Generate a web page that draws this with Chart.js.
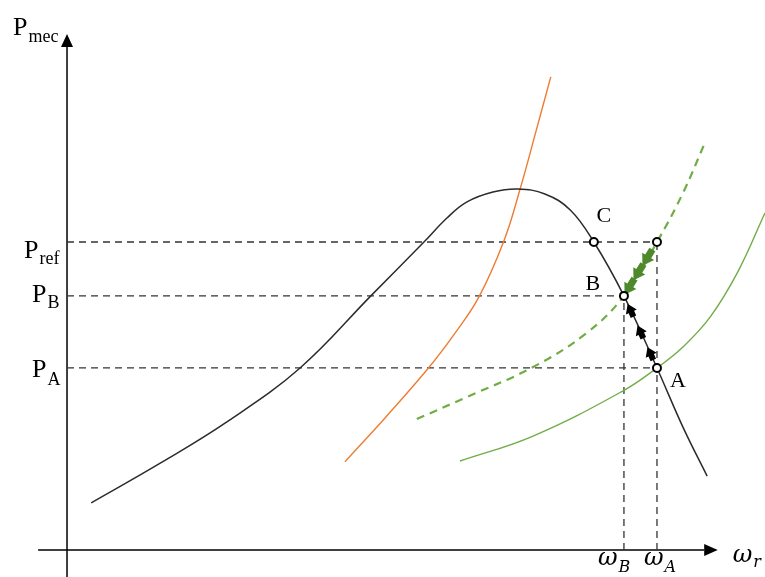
<!DOCTYPE html>
<html>
<head>
<meta charset="utf-8">
<script src="https://cdn.jsdelivr.net/npm/chart.js@4/dist/chart.umd.min.js"></script>
<style>
  html, body { margin: 0; padding: 0; background: #fff; }
  #wrap { width: 765px; height: 577px; }
</style>
</head>
<body>
<div id="wrap"><canvas id="c" width="765" height="577"></canvas></div>
<script>
// Rotor speed ω (per unit of ω_A) versus mechanical power (per unit of P_ref)

// Operating points
const W_A = 1.000, W_B = 0.944, W_C = 0.893;
const P_REF = 1.000, P_B = 0.825, P_A = 0.591;

// Turbine power curve P_mec(ω)
const turbineW = [0.041, 0.158, 0.271, 0.395, 0.515, 0.605, 0.644, 0.678, 0.722, 0.764, 0.810, 0.853, 0.893, 0.944, 1.000, 1.044, 1.085];
const turbineP = [0.153, 0.282, 0.416, 0.591, 0.825, 1.000, 1.078, 1.130, 1.162, 1.172, 1.156, 1.104, 1.000, 0.825, 0.591, 0.399, 0.240];

// Optimal-power tracking curve (orange)
const optW = [0.471, 0.542, 0.614, 0.658, 0.698, 0.741, 0.768, 0.795, 0.820];
const optP = [0.286, 0.435, 0.594, 0.705, 0.821, 1.006, 1.172, 1.360, 1.536];

// Shifted control curve through B and the P_ref target (dashed green)
const ctrlNewW = [0.593, 0.678, 0.790, 0.881, 0.944, 1.000, 1.044, 1.081];
const ctrlNewP = [0.425, 0.497, 0.594, 0.705, 0.825, 1.000, 1.159, 1.321];

// Initial control curve through A (solid green)
const ctrlOldW = [0.666, 0.790, 0.942, 1.000, 1.044, 1.090, 1.137, 1.183];
const ctrlOldP = [0.289, 0.370, 0.516, 0.591, 0.659, 0.756, 0.903, 1.094];

// Axis labels on the power axis
const pTickMain = ['P', 'P', 'P'];
const pTickSub  = ['ref', 'B', 'A'];
const pTickVal  = [P_REF, P_B, P_A];

// Axis extents
const W_VIEW = [-0.1136, 1.1831];
const P_VIEW = [-0.0877, 1.7857];
const W_AXIS = [-0.049, 1.080, 1.103];   // start, arrow base, arrow tip
const P_AXIS = [-0.090, 1.633, 1.675];

const zip = (xs, ys) => xs.map((x, i) => ({ x, y: ys[i] }));

const BLACK = '#2b2b2b';
const ORANGE = '#ED7D31';
const GREEN = '#70AD47';
const GREEN_DARK = '#4E8A2C';
const GUIDE = '#333333';

const ptA = { x: W_A, y: P_A };
const ptB = { x: W_B, y: P_B };
const ptC = { x: W_C, y: P_REF };
const ptD = { x: W_A, y: P_REF };

const curve = (data, color, width, dash) => ({
  data, showLine: true, pointRadius: 0, borderColor: color, borderWidth: width,
  borderDash: dash || [], tension: 0.4, fill: false
});
const guide = (a, b) => ({
  data: [a, b], showLine: true, pointRadius: 0, borderColor: GUIDE,
  borderWidth: 1.3, borderDash: [7, 5], tension: 0, fill: false
});

const datasets = [
  { // operating points, drawn last (on top)
    data: [ptA, ptB, ptC, ptD], showLine: false, pointRadius: 4,
    pointBackgroundColor: '#ffffff', pointBorderColor: '#000000', pointBorderWidth: 2
  },
  curve(zip(turbineW, turbineP), BLACK, 1.5),
  curve(zip(optW, optP), ORANGE, 1.4),
  curve(zip(ctrlNewW, ctrlNewP), GREEN, 2.2, [8, 6]),
  curve(zip(ctrlOldW, ctrlOldP), GREEN, 1.4),
  guide({ x: 0, y: P_REF }, ptD),
  guide({ x: 0, y: P_B }, ptB),
  guide({ x: 0, y: P_A }, ptA),
  guide({ x: W_B, y: 0 }, ptB),
  guide({ x: W_A, y: 0 }, ptD),
  { data: [{ x: 0, y: P_AXIS[0] }, { x: 0, y: P_AXIS[1] }], showLine: true, pointRadius: 0, borderColor: '#000', borderWidth: 1.5 },
  { data: [{ x: W_AXIS[0], y: 0 }, { x: W_AXIS[1], y: 0 }], showLine: true, pointRadius: 0, borderColor: '#000', borderWidth: 1.5 }
];

function arrow(ctx, tail, tip, color, headLen, headHalf, shaftHalf) {
  const dx = tip.x - tail.x, dy = tip.y - tail.y, L = Math.hypot(dx, dy);
  const ux = dx / L, uy = dy / L, nx = -uy, ny = ux;
  const bx = tip.x - ux * headLen, by = tip.y - uy * headLen;
  ctx.beginPath();
  ctx.moveTo(tail.x + nx * shaftHalf, tail.y + ny * shaftHalf);
  ctx.lineTo(bx + nx * shaftHalf, by + ny * shaftHalf);
  ctx.lineTo(bx + nx * headHalf, by + ny * headHalf);
  ctx.lineTo(tip.x, tip.y);
  ctx.lineTo(bx - nx * headHalf, by - ny * headHalf);
  ctx.lineTo(bx - nx * shaftHalf, by - ny * shaftHalf);
  ctx.lineTo(tail.x - nx * shaftHalf, tail.y - ny * shaftHalf);
  ctx.closePath();
  ctx.fillStyle = color;
  ctx.fill();
}

// chain of arrows between two operating points, centred at fractions ts
function arrowChain(ctx, p0, p1, ts, len, color, headLen, headHalf, shaftHalf) {
  const L = Math.hypot(p1.x - p0.x, p1.y - p0.y);
  const h = len / 2 / L;
  const at = t => ({ x: p0.x + (p1.x - p0.x) * t, y: p0.y + (p1.y - p0.y) * t });
  ts.forEach(t => arrow(ctx, at(t - h), at(t + h), color, headLen, headHalf, shaftHalf));
}

function subText(ctx, main, sub, x, y, mainFont, subFont, subDy) {
  ctx.font = mainFont;
  ctx.fillText(main, x, y);
  const w = ctx.measureText(main).width;
  ctx.font = subFont;
  ctx.fillText(sub, x + w + 1, y + subDy);
}

const overlay = {
  id: 'overlay',
  beforeDatasetDraw(chart, args) {
    if (args.index !== 0) return;
    const { ctx, scales: { x, y } } = chart;
    const px = p => ({ x: x.getPixelForValue(p.x), y: y.getPixelForValue(p.y) });
    ctx.save();
    // speed reduction: from the P_ref target down to B
    arrowChain(ctx, px(ptD), px(ptB), [0.29, 0.56, 0.83], 19, GREEN_DARK, 11, 7, 3.5);
    // operating point moving along the turbine curve from A up to B
    arrowChain(ctx, px(ptA), px(ptB), [0.2, 0.5, 0.8], 14, '#000000', 9, 6, 3);
    ctx.restore();
  },
  afterDatasetsDraw(chart) {
    const { ctx, scales: { x, y } } = chart;
    const x0 = x.getPixelForValue(0), y0 = y.getPixelForValue(0);
    ctx.save();
    ctx.fillStyle = '#000';
    // axis arrowheads
    const yTip = y.getPixelForValue(P_AXIS[2]), yBase = y.getPixelForValue(P_AXIS[1]);
    ctx.beginPath();
    ctx.moveTo(x0, yTip); ctx.lineTo(x0 + 6, yBase); ctx.lineTo(x0 - 6, yBase); ctx.closePath(); ctx.fill();
    const xTip = x.getPixelForValue(W_AXIS[2]), xBase = x.getPixelForValue(W_AXIS[1]);
    ctx.beginPath();
    ctx.moveTo(xTip, y0); ctx.lineTo(xBase, y0 - 6); ctx.lineTo(xBase, y0 + 6); ctx.closePath(); ctx.fill();

    ctx.textBaseline = 'alphabetic';
    ctx.textAlign = 'left';
    const big = '26px "Liberation Serif"', small = '18px "Liberation Serif"';
    // power axis title
    subText(ctx, 'P', 'mec', x0 - 54, yTip + 1, big, small, 7);
    // power axis labels
    const tickLeft = [x0 - 43, x0 - 35, x0 - 35];
    const tickBase = [16, 6, 9];
    const tickSubDy = [6, 6, 8];
    pTickVal.forEach((v, i) => {
      const py = y.getPixelForValue(v);
      subText(ctx, pTickMain[i], pTickSub[i], tickLeft[i], py + tickBase[i], big, small, tickSubDy[i]);
    });

    // operating point letters
    ctx.font = '22px "Liberation Serif"';
    ctx.textAlign = 'center';
    const lab = (p, t, dx, dy) => ctx.fillText(t, x.getPixelForValue(p.x) + dx, y.getPixelForValue(p.y) + dy);
    lab(ptC, 'C', 10, -20);
    lab(ptB, 'B', -31, -6);
    lab(ptA, 'A', 21, 19);

    // speed axis labels
    ctx.textAlign = 'left';
    const wf = 'italic 24px "DejaVu Serif"', ws = 'italic 16px "DejaVu Serif"';
    subText(ctx, 'ω', 'B', x.getPixelForValue(W_B) - 26, y0 + 15, wf, ws, 7);
    subText(ctx, 'ω', 'A', x.getPixelForValue(W_A) - 13, y0 + 15, wf, ws, 7);
    subText(ctx, 'ω', 'r', xTip + 15, y0 + 12, wf, ws, 5);
    ctx.restore();
  }
};

new Chart(document.getElementById('c'), {
  type: 'scatter',
  data: { datasets },
  options: {
    responsive: false,
    animation: false,
    events: [],
    layout: { padding: 0, autoPadding: false },
    plugins: { legend: { display: false }, tooltip: { enabled: false }, title: { display: false } },
    scales: {
      x: { type: 'linear', min: W_VIEW[0], max: W_VIEW[1], display: false },
      y: { type: 'linear', min: P_VIEW[0], max: P_VIEW[1], display: false }
    }
  },
  plugins: [overlay]
});
</script>
</body>
</html>
